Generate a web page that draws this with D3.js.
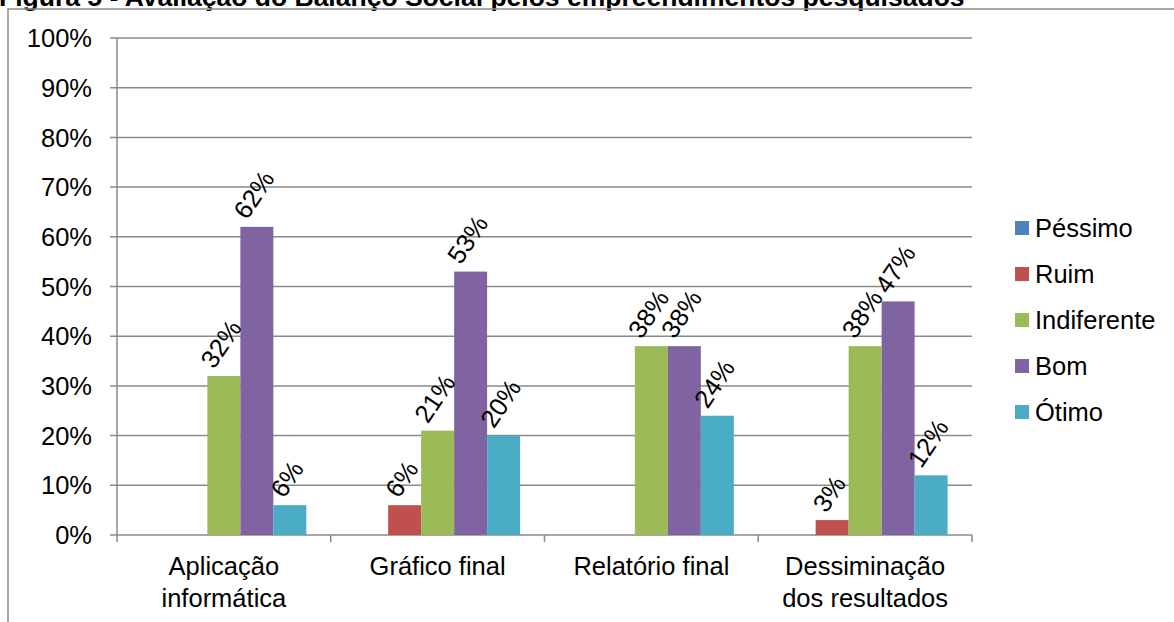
<!DOCTYPE html>
<html><head><meta charset="utf-8">
<script src="https://cdn.jsdelivr.net/npm/d3@7"></script>
<style>body{margin:0;background:#fff}svg{display:block;font-family:Arial,"Liberation Sans",sans-serif}</style>
</head><body><svg id="c" width="1174" height="622"></svg>
<script>
const title = "Figura 5 - Avaliação do Balanço Social pelos empreendimentos pesquisados";
const categories = [["Aplicação","informática"],["Gráfico final"],["Relatório final"],["Dessiminação","dos resultados"]];
const series = ["Péssimo","Ruim","Indiferente","Bom","Ótimo"];
const colors = ["#4F81BD","#C0504D","#9BBB59","#8064A2","#4BACC6"];
const pessimo = [0,0,0,0];
const ruim = [0,6,0,3];
const indiferente = [32,21,38,38];
const bom = [62,53,38,47];
const otimo = [6,20,24,12];
const yTicks = [0,10,20,30,40,50,60,70,80,90,100];
const values = [pessimo, ruim, indiferente, bom, otimo];

const svg = d3.select("#c");
const L = 117, R = 972, T = 38, B = 535;
const x0 = d3.scaleBand().domain(d3.range(categories.length)).range([L, R]);
const x1 = d3.scaleBand().domain(series).range([0, x0.bandwidth()]).paddingOuter(0.74);
const y = d3.scaleLinear().domain([0,100]).range([B, T]);
const grid = "#8a8a8a";
const fs = 25.5;

// title (partly cut off at the top, as in the source)
svg.append("text").attr("x",-1).attr("y",6).attr("font-size",26.5).attr("font-weight","bold").text(title);
// frame
svg.append("path").attr("d","M8,622V9H1174").attr("fill","none").attr("stroke","#8c8c8c").attr("stroke-width",1.5);

// gridlines + y labels
const ya = svg.append("g");
yTicks.forEach(t=>{
  ya.append("line").attr("x1",110).attr("x2",R).attr("y1",y(t)).attr("y2",y(t)).attr("stroke",grid).attr("stroke-width",1.5);
  ya.append("text").attr("x",92).attr("y",y(t)).attr("dy","0.36em").attr("text-anchor","end").attr("font-size",fs).text(t+"%");
});
ya.append("line").attr("x1",L).attr("x2",L).attr("y1",T).attr("y2",B).attr("stroke",grid).attr("stroke-width",1.5);
// category ticks
d3.range(categories.length+1).forEach(i=>{
  const xx = i<categories.length ? x0(i) : R;
  svg.append("line").attr("x1",xx).attr("x2",xx).attr("y1",B).attr("y2",B+7).attr("stroke",grid).attr("stroke-width",1.5);
});
categories.forEach((c,i)=>{
  const t = svg.append("text").attr("text-anchor","middle").attr("font-size",fs);
  c.forEach((ln,j)=>t.append("tspan").attr("x",x0(i)+x0.bandwidth()/2).attr("y",575+j*32).text(ln));
});

// bars
series.forEach((s,si)=>{
  values[si].forEach((v,ci)=>{
    if(v<=0) return;
    const bx = x0(ci)+x1(s);
    svg.append("rect").attr("x",bx).attr("y",y(v)).attr("width",x1.bandwidth()).attr("height",B-y(v)).attr("fill",colors[si]);
  });
});
// labels
const ang = -56, rad = Math.abs(ang)*Math.PI/180;
series.forEach((s,si)=>{
  values[si].forEach((v,ci)=>{
    if(v<=0) return;
    const cx = x0(ci)+x1(s)+x1.bandwidth()/2 - 3;
    const t = svg.append("text").attr("font-size",fs).attr("text-anchor","middle").attr("dy","0.35em").text(v+"%");
    const len = t.node().getComputedTextLength();
    const hh = (len*Math.sin(rad)+18*Math.cos(rad))/2;
    const cy = y(v)-hh-6;
    t.attr("transform",`translate(${cx},${cy}) rotate(${ang})`);
  });
});

// legend
series.forEach((s,i)=>{
  const ly = 228 + i*46;
  svg.append("rect").attr("x",1015).attr("y",ly-7).attr("width",14).attr("height",14).attr("fill",colors[i]);
  svg.append("text").attr("x",1035).attr("y",ly).attr("dy","0.36em").attr("font-size",fs).text(s);
});
</script></body></html>
